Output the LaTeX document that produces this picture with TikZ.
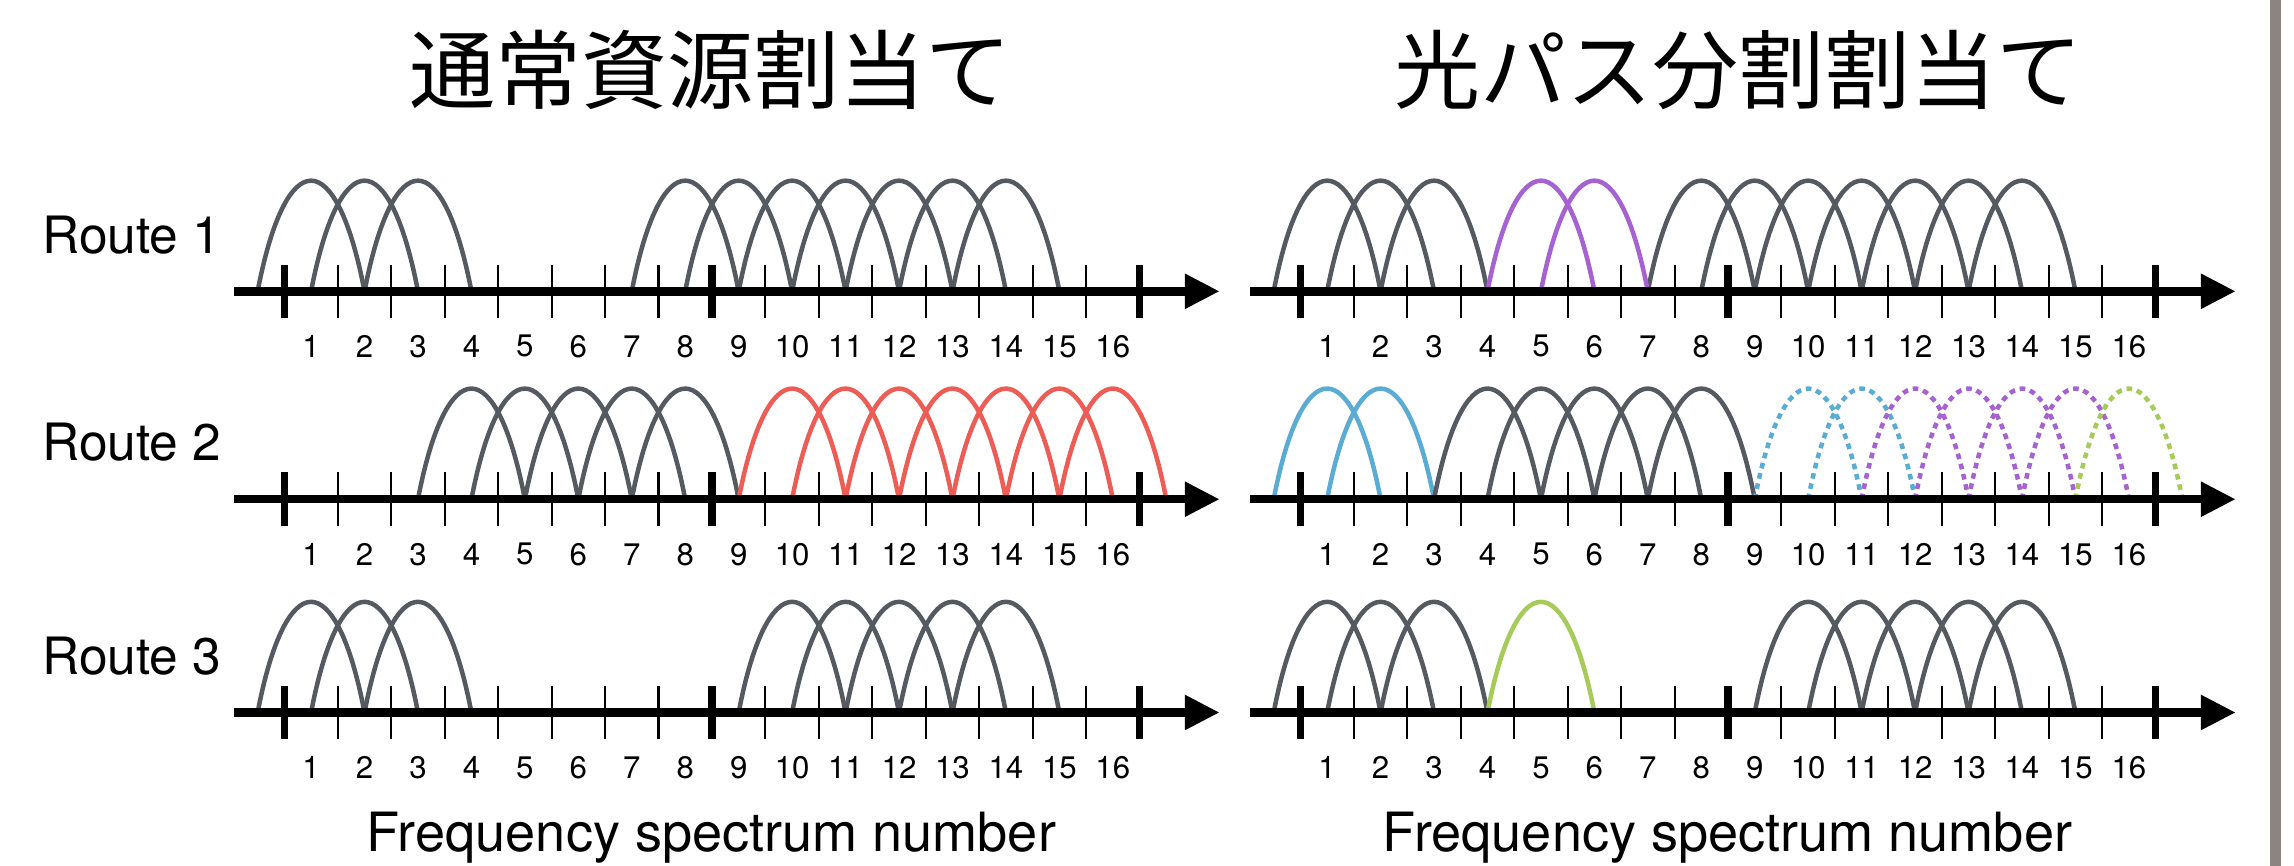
\documentclass[tikz,border=0pt]{standalone}
\usepackage{fontspec}
\setmainfont{TeX Gyre Heros}
\newfontfamily\jpfont{Noto Sans CJK JP}
\usepackage{tikz}
\usetikzlibrary{arrows.meta}
\definecolor{slotgray}{HTML}{555A61}
\definecolor{slotred}{HTML}{EE5D55}
\definecolor{slotpurple}{HTML}{A562D0}
\definecolor{slotblue}{HTML}{5AACD2}
\definecolor{slotgreen}{HTML}{A7CB5A}
\definecolor{bargray}{HTML}{8A8580}

% one arch per used slot: style, axis origin x, axis y, list of slots
\newcommand{\spslots}[4]{%
  \foreach \k in {#4}
    \draw[#1] ({#2+\k-1.5},#3) .. controls +(0.53,2.76) and +(-0.53,2.76) .. +(2,0);
}

\begin{document}
\begin{tikzpicture}[x=5mm,y=5mm,
    slot/.style={line width=1.2pt,slotgray},
    dots/.style={line width=1.2pt,dash pattern=on 1.5pt off 1.3pt},
    spaxis/.style={line width=2.26pt,-{Triangle[length=9.3pt,width=8.8pt]}},
    major/.style={line width=1.9pt},
    minor/.style={line width=0.55pt},
    num/.style={inner sep=0pt,font=\fontsize{8.3}{10}\selectfont},
    route/.style={inner sep=0pt,anchor=west,font=\fontsize{13.7}{16}\selectfont},
    title/.style={inner sep=0pt,font=\fontsize{22.9}{27}\selectfont\jpfont},
    freq/.style={inner sep=0pt,anchor=base,font=\fontsize{14.4}{17}\selectfont}]
  \fill[white] (0,0) rectangle (42.92,16.2);
  \useasboundingbox (0,0) rectangle (42.92,16.2);
  % side bar
  \fill[bargray] (42.47,0) rectangle (42.67,16.2);

  % headings
  \node[title] (head1) at (13.29,14.89) {通常資源割当て};
  \node[title] (head2) at (32.53,14.89) {光パス分割割当て};

  % route names
  \node[route] (route1) at (0.78,11.81) {Route 1};
  \node[route] (route2) at (0.78,7.92) {Route 2};
  \node[route] (route3) at (0.78,3.93) {Route 3};

  %Arches, left side
  \spslots{slot}{5.32}{10.75}{1,2,3,8,9,...,14}
  \spslots{slot}{5.32}{6.86}{4,5,...,8}
  \spslots{slot,slotred}{5.32}{6.86}{10,11,...,16}
  \spslots{slot}{5.32}{2.87}{1,2,3,10,11,...,14}
  %Arches, right side
  \spslots{slot}{24.33}{10.75}{1,2,3,8,9,...,14}
  \spslots{slot,slotpurple}{24.33}{10.75}{5,6}
  \spslots{slot,slotblue}{24.33}{6.86}{1,2}
  \spslots{slot}{24.33}{6.86}{4,5,...,8}
  \spslots{dots,slotblue}{24.33}{6.86}{10,11}
  \spslots{dots,slotpurple}{24.33}{6.86}{12,13,14,15}
  \spslots{dots,slotgreen}{24.33}{6.86}{16}
  \spslots{slot}{24.33}{2.87}{1,2,3,10,11,...,14}
  \spslots{slot,slotgreen}{24.33}{2.87}{5}

  %Axes with ticks and slot numbers
  \foreach \x/\y/\a in {5.32/10.75/a,5.32/6.86/b,5.32/2.87/c,24.33/10.75/d,24.33/6.86/e,24.33/2.87/f}{
    \draw[spaxis] ({\x-0.95},\y) -- ({\x+17.5},\y);
    \foreach \t in {1,...,15}
      \draw[minor] ({\x+\t},{\y-0.5}) -- ({\x+\t},{\y+0.5});
    \foreach \t in {0,8,16}
      \draw[major] ({\x+\t},{\y-0.5}) -- ({\x+\t},{\y+0.5});
    \foreach \n in {1,...,16}
      \node[num] (\a\n) at ({\x+\n-0.5},{\y-1.03}) {\n};
  }

  % axis captions
  \node[freq] (freq1) at (13.31,0.262) {Frequency spectrum number};
  \node[freq] (freq2) at (32.32,0.262) {Frequency spectrum number};
\end{tikzpicture}
\end{document}
